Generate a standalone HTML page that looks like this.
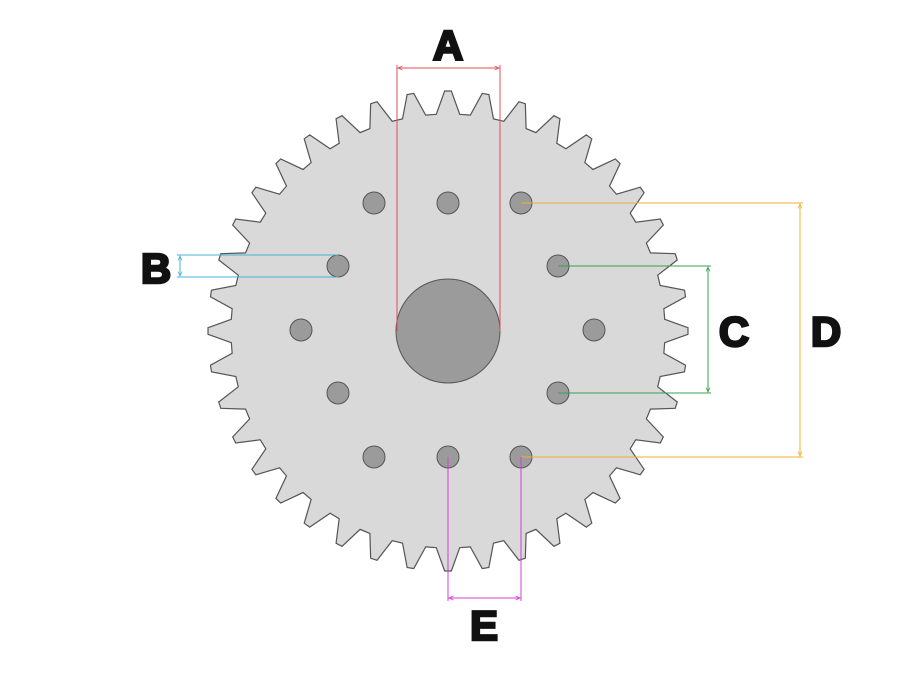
<!DOCTYPE html>
<html><head><meta charset="utf-8"><style>
html,body{margin:0;padding:0;background:#fff;}
svg{display:block;}
text{font-family:"Liberation Sans",sans-serif;font-weight:bold;fill:#111;stroke:#111;stroke-width:2.5;}
</style></head><body>
<svg id="s" width="900" height="675" viewBox="0 0 900 675" xmlns="http://www.w3.org/2000/svg">
<defs>
<marker id="ar" viewBox="0 0 10 10" refX="9" refY="5" markerWidth="5" markerHeight="5" orient="auto-start-reverse"><path d="M0,1 L9,5 L0,9" fill="none" stroke="context-stroke" stroke-width="1.5"/></marker>
</defs>
<path id="gear" fill="#d9d9d9" stroke="#555" stroke-width="1.2"/>
<g fill="#9b9b9b" stroke="#555" stroke-width="1">
<circle cx="374" cy="203" r="11"/><circle cx="448" cy="203" r="11"/><circle cx="521" cy="203" r="11"/>
<circle cx="338" cy="266" r="11"/><circle cx="558" cy="266" r="11"/>
<circle cx="301" cy="330" r="11"/><circle cx="594" cy="330" r="11"/>
<circle cx="338" cy="393" r="11"/><circle cx="558" cy="393" r="11"/>
<circle cx="374" cy="457" r="11"/><circle cx="448" cy="457" r="11"/><circle cx="521" cy="457" r="11"/>
<circle cx="448" cy="331" r="52"/>
</g>
<g fill="none" stroke-width="1">
<g stroke="#e0505a">
<line x1="397" y1="65" x2="397" y2="331"/><line x1="500" y1="65" x2="500" y2="331"/>
<line x1="398" y1="68" x2="499" y2="68" marker-start="url(#ar)" marker-end="url(#ar)"/>
</g>
<g stroke="#4ab0d8">
<line x1="177" y1="255" x2="338" y2="255"/><line x1="177" y1="277" x2="338" y2="277"/>
<line x1="180" y1="256" x2="180" y2="276" marker-start="url(#ar)" marker-end="url(#ar)"/>
</g>
<g stroke="#3aa050">
<line x1="558" y1="266" x2="711" y2="266"/><line x1="558" y1="393" x2="711" y2="393"/>
<line x1="708" y1="267" x2="708" y2="392" marker-start="url(#ar)" marker-end="url(#ar)"/>
</g>
<g stroke="#f0b030">
<line x1="521" y1="203" x2="803" y2="203"/><line x1="521" y1="457" x2="803" y2="457"/>
<line x1="800" y1="204" x2="800" y2="456" marker-start="url(#ar)" marker-end="url(#ar)"/>
</g>
<g stroke="#d040d0">
<line x1="448" y1="457" x2="448" y2="601"/><line x1="521" y1="457" x2="521" y2="601"/>
<line x1="449" y1="598" x2="520" y2="598" marker-start="url(#ar)" marker-end="url(#ar)"/>
</g>
</g>
<text x="448" y="60" font-size="42" text-anchor="middle">A</text>
<text x="156" y="283" font-size="42" text-anchor="middle">B</text>
<text x="734" y="346" font-size="42" text-anchor="middle">C</text>
<text x="826" y="346" font-size="42" text-anchor="middle">D</text>
<text x="484" y="640" font-size="42" text-anchor="middle">E</text>
</svg>
<script>
(function(){
var cx=448,cy=331,rt=240,rr=217,n=40,d="";
function p(r,a){a=a*Math.PI/180;return (cx+r*Math.sin(a)).toFixed(2)+","+(cy-r*Math.cos(a)).toFixed(2);}
for(var i=0;i<n;i++){var t=i*360/n;
d+=(i?"L":"M")+p(rr,t-3.1)+"L"+p(rt,t-0.8)+"L"+p(rt,t+0.8)+"L"+p(rr,t+3.1);}
d+="Z";document.getElementById("gear").setAttribute("d",d);
})();
</script>
</body></html>
